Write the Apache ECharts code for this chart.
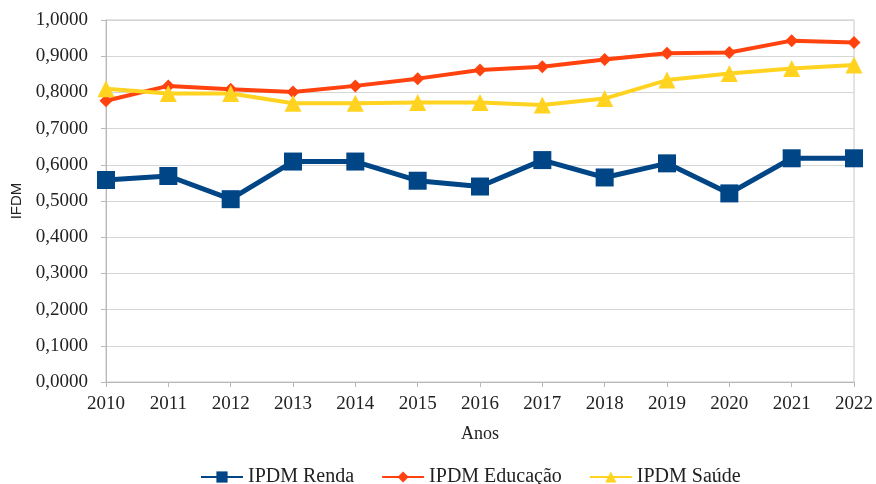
<!DOCTYPE html>
<html>
<head>
<meta charset="utf-8">
<script src="https://cdn.jsdelivr.net/npm/echarts@6/dist/echarts.min.js"></script>
<style>
  html, body { margin: 0; padding: 0; background: #fff; }
  #chart { width: 876px; height: 484px; }
</style>
</head>
<body>
<div id="chart"></div>
<script>
const anos = ['2010', '2011', '2012', '2013', '2014', '2015', '2016', '2017', '2018', '2019', '2020', '2021', '2022'];
const renda = [0.558, 0.569, 0.505, 0.609, 0.609, 0.556, 0.540, 0.613, 0.565, 0.604, 0.521, 0.618, 0.618];
const educacao = [0.777, 0.818, 0.809, 0.801, 0.818, 0.838, 0.862, 0.871, 0.891, 0.908, 0.910, 0.943, 0.938];
const saude = [0.810, 0.797, 0.797, 0.770, 0.770, 0.772, 0.772, 0.765, 0.783, 0.834, 0.852, 0.866, 0.876];

const chart = echarts.init(document.getElementById('chart'));
const serif = '"Liberation Serif", "DejaVu Serif", serif';

chart.setOption({
  animation: false,
  grid: {
    left: 106, right: 21, top: 20, bottom: 102,
    show: true, borderColor: '#c8c8c8', borderWidth: 1
  },
  legend: {
    top: 462,
    left: 195,
    itemWidth: 42,
    itemHeight: 14,
    itemGap: 27,
    textStyle: { fontFamily: serif, fontSize: 20, color: '#222' },
    data: ['IPDM Renda', 'IPDM Educação', 'IPDM Saúde']
  },
  xAxis: {
    type: 'category',
    data: anos,
    boundaryGap: false,
    name: 'Anos',
    nameLocation: 'middle',
    nameGap: 43,
    nameTextStyle: { fontFamily: serif, fontSize: 18, color: '#222' },
    axisLine: { lineStyle: { color: '#b8b8b8' } },
    axisTick: { show: true, length: 5, lineStyle: { color: '#b8b8b8' } },
    axisLabel: { fontFamily: serif, fontSize: 19, color: '#222', margin: 13 },
    splitLine: { show: false }
  },
  yAxis: {
    type: 'value',
    min: 0, max: 1, interval: 0.1,
    name: 'IFDM',
    nameLocation: 'middle',
    nameRotate: 90,
    nameGap: 80,
    nameTextStyle: { fontFamily: '"Liberation Sans", Arial, sans-serif', fontSize: 15, color: '#222' },
    axisLine: { show: true, lineStyle: { color: '#b8b8b8' } },
    axisTick: { show: true, length: 5, lineStyle: { color: '#b8b8b8' } },
    axisLabel: {
      fontFamily: serif, fontSize: 19, color: '#222', margin: 18,
      formatter: v => v.toFixed(4).replace('.', ',')
    },
    splitLine: { lineStyle: { color: '#d6d6d6' } }
  },
  series: [
    {
      name: 'IPDM Renda',
      type: 'line',
      data: renda,
      symbol: 'rect',
      symbolSize: 18,
      lineStyle: { color: '#004586', width: 5 },
      itemStyle: { color: '#004586' }
    },
    {
      name: 'IPDM Educação',
      type: 'line',
      data: educacao,
      symbol: 'diamond',
      symbolSize: 13,
      lineStyle: { color: '#ff420e', width: 4 },
      itemStyle: { color: '#ff420e' }
    },
    {
      name: 'IPDM Saúde',
      type: 'line',
      data: saude,
      symbol: 'triangle',
      symbolSize: 17,
      lineStyle: { color: '#ffd320', width: 4 },
      itemStyle: { color: '#ffd320' }
    }
  ]
});
</script>
</body>
</html>
